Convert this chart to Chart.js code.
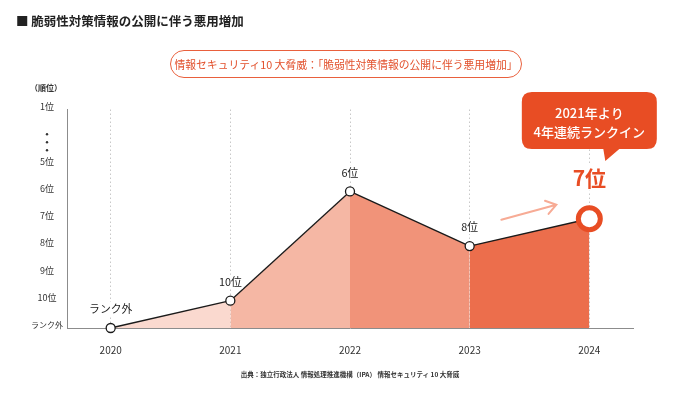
<!DOCTYPE html>
<html lang="ja">
<head>
<meta charset="utf-8">
<script src="https://cdn.jsdelivr.net/npm/chart.js@4.4.1/dist/chart.umd.min.js"></script>
<style>
html,body{margin:0;padding:0;background:#fff;}
body{width:700px;height:394px;position:relative;overflow:hidden;font-family:"Noto Sans CJK JP","Noto Sans",sans-serif;}
#wrap{position:absolute;left:0;top:0;width:700px;height:394px;}
.title{position:absolute;left:16px;top:11px;font-size:12.5px;font-weight:bold;color:#222;white-space:nowrap;}
.pill{position:absolute;left:170px;top:50px;width:350px;height:26px;border:1px solid #e9603d;border-radius:14px;color:#e2502c;font-size:10.8px;line-height:26px;text-align:center;white-space:nowrap;}
.source{position:absolute;left:0;width:700px;top:369px;text-align:center;font-size:6.5px;font-weight:bold;color:#333;white-space:nowrap;}
</style>
</head>
<body>
<div id="wrap"><canvas id="mycanvas" width="700" height="394"></canvas></div>
<div class="title">■ 脆弱性対策情報の公開に伴う悪用増加</div>
<div class="pill">情報セキュリティ10 大脅威：「脆弱性対策情報の公開に伴う悪用増加」</div>
<div class="source">出典：独立行政法人 情報処理推進機構（IPA） 情報セキュリティ 10 大脅威</div>
<script>
var years = [2020, 2021, 2022, 2023, 2024];
var ranks = [0, 10, 6, 8, 7]; // 0 = ランク外
var pointLabels = ['ランク外', '10位', '6位', '8位', '7位'];
var yTickLabels = ['ランク外', '10位', '9位', '8位', '7位', '6位', '5位', '', '1位'];
var fillColors = ['#fad9cf', '#f5b7a4', '#f19379', '#ec6e4c'];
var calloutLines = ['2021年より', '4年連続ランクイン'];

var FONT = '"Noto Sans CJK JP", "Noto Sans", sans-serif';
var ORANGE = '#e84d24';

// axis position: ランク外=0, 10位..5位 = 1..6, 1位 = 8 (axis is compressed above 5位)
function rankToPos(r){
	if (r === 0) return 0;
	if (r >= 5) return 11 - r;
	return 8;
}

var points = [];
for (var i in years){
	points.push({x: years[i], y: rankToPos(ranks[i])});
}

function labelWithBg(ctx, text, x, y){
	var w = ctx.measureText(text).width;
	ctx.fillStyle = '#fff';
	ctx.fillRect(x - w/2 - 1, y - 7, w + 2, 14);
}

var overlay = {
	id: 'overlay',
	afterDatasetsDraw: function(chart){
		var ctx = chart.ctx;
		var ys = chart.scales.y;
		var meta = chart.getDatasetMeta(0);
		var last = meta.data[meta.data.length - 1];
		var top = chart.chartArea.top;
		ctx.save();

		// vertical dots between 5位 and 1位
		ctx.fillStyle = '#333';
		var dy = ys.getPixelForValue(6.8);
		[-8, 0, 8].forEach(function(o){
			ctx.beginPath();
			ctx.arc(ys.right - 20, dy + o, 1.2, 0, Math.PI*2);
			ctx.fill();
		});

		// labels above points
		ctx.font = '10.8px ' + FONT;
		ctx.textAlign = 'center';
		ctx.textBaseline = 'middle';
		for (var i = 0; i < meta.data.length - 1; i++){
			var p = meta.data[i];
			var ly = p.y - 19;
			labelWithBg(ctx, pointLabels[i], p.x, ly);
			ctx.fillStyle = '#222';
			ctx.fillText(pointLabels[i], p.x, ly);
		}

		// highlighted last label
		ctx.font = 'bold 21px ' + FONT;
		var ly2 = last.y - 41;
		var w2 = ctx.measureText(pointLabels[4]).width;
		ctx.fillStyle = '#fff';
		ctx.fillRect(last.x - w2/2 - 2, ly2 - 13, w2 + 4, 26);
		ctx.fillStyle = ORANGE;
		ctx.fillText(pointLabels[4], last.x, ly2);

		// arrow
		var ax0 = last.x - 88, ay0 = last.y + 1;
		var ax1 = last.x - 33, ay1 = last.y - 14;
		var ang = Math.atan2(ay1 - ay0, ax1 - ax0);
		ctx.strokeStyle = '#f7ab95';
		ctx.lineWidth = 2;
		ctx.lineCap = 'round';
		ctx.beginPath();
		ctx.moveTo(ax0, ay0);
		ctx.lineTo(ax1, ay1);
		ctx.moveTo(ax1 - 12*Math.cos(ang - 0.6), ay1 - 12*Math.sin(ang - 0.6));
		ctx.lineTo(ax1, ay1);
		ctx.lineTo(ax1 - 12*Math.cos(ang + 0.6), ay1 - 12*Math.sin(ang + 0.6));
		ctx.stroke();

		// callout bubble
		var bx = last.x - 67.5, by = top - 17.5, bw = 135, bh = 57, r = 10;
		ctx.fillStyle = ORANGE;
		ctx.beginPath();
		ctx.moveTo(bx + r, by);
		ctx.lineTo(bx + bw - r, by);
		ctx.quadraticCurveTo(bx + bw, by, bx + bw, by + r);
		ctx.lineTo(bx + bw, by + bh - r);
		ctx.quadraticCurveTo(bx + bw, by + bh, bx + bw - r, by + bh);
		ctx.lineTo(last.x + 30, by + bh);
		ctx.lineTo(last.x + 16, by + bh + 12);
		ctx.lineTo(last.x + 14, by + bh);
		ctx.lineTo(bx + r, by + bh);
		ctx.quadraticCurveTo(bx, by + bh, bx, by + bh - r);
		ctx.lineTo(bx, by + r);
		ctx.quadraticCurveTo(bx, by, bx + r, by);
		ctx.closePath();
		ctx.fill();
		ctx.fillStyle = '#fff';
		ctx.font = '500 13px ' + FONT;
		ctx.fillText(calloutLines[0], last.x, by + 21);
		ctx.fillText(calloutLines[1], last.x, by + 40);
		ctx.restore();
	}
};

// "(順位)" axis caption
var capPlugin = {
	id: 'cap',
	afterDraw: function(c){
		var g = c.ctx;
		g.save();
		g.font = 'bold 8px ' + FONT;
		g.fillStyle = '#333';
		g.textAlign = 'center';
		g.textBaseline = 'middle';
		g.fillText('（順位）', 46, 88);
		g.restore();
	}
};

var ctx = document.getElementById('mycanvas');
var chart = new Chart(ctx, {
	type: 'line',
	data: {
		datasets: [{
			data: points,
			borderColor: '#1a1a1a',
			borderWidth: 1.3,
			fill: 'origin',
			backgroundColor: fillColors[0],
			segment: {
				backgroundColor: function(c){ return fillColors[c.p0DataIndex]; }
			},
			tension: 0,
			clip: false,
			pointRadius: function(c){ return c.dataIndex === 4 ? 11 : 4.5; },
			pointBorderWidth: function(c){ return c.dataIndex === 4 ? 5 : 1.3; },
			pointBorderColor: function(c){ return c.dataIndex === 4 ? ORANGE : '#1a1a1a'; },
			pointBackgroundColor: '#fff',
			pointHoverRadius: function(c){ return c.dataIndex === 4 ? 11 : 4.5; }
		}]
	},
	options: {
		responsive: false,
		animation: false,
		events: [],
		layout: { padding: { top: 109.5, left: 31, right: 67, bottom: 26 } },
		plugins: { legend: { display: false }, tooltip: { enabled: false } },
		scales: {
			x: {
				type: 'linear',
				min: 2019.635,
				max: 2024.365,
				afterBuildTicks: function(s){ s.ticks = years.map(function(v){ return {value: v}; }); },
				ticks: {
					callback: function(v){ return String(v); },
					color: '#333',
					font: { size: 10, family: FONT },
					padding: 16,
					maxRotation: 0
				},
				grid: { display: true, drawTicks: false, color: '#c8c8c8', lineWidth: 1 },
				border: { display: true, color: '#8c8c8c', width: 1, dash: [1.5, 2.5] },
				afterFit: function(s){ s.height = 40; }
			},
			y: {
				min: 0,
				max: 8,
				afterBuildTicks: function(s){ s.ticks = yTickLabels.map(function(_, i){ return {value: i}; }); },
				ticks: {
					callback: function(v){ return yTickLabels[v]; },
					crossAlign: 'center',
					padding: 4,
					labelOffset: -3,
					color: '#333',
					font: function(c){ return { size: (c.tick && c.tick.value === 0) ? 8 : 9, family: FONT }; }
				},
				grid: { display: false, drawTicks: false },
				border: { display: true, color: '#8c8c8c', width: 1 },
				afterFit: function(s){ s.width = 36; }
			}
		}
	},
	plugins: [overlay, capPlugin]
});
</script>
</body>
</html>
